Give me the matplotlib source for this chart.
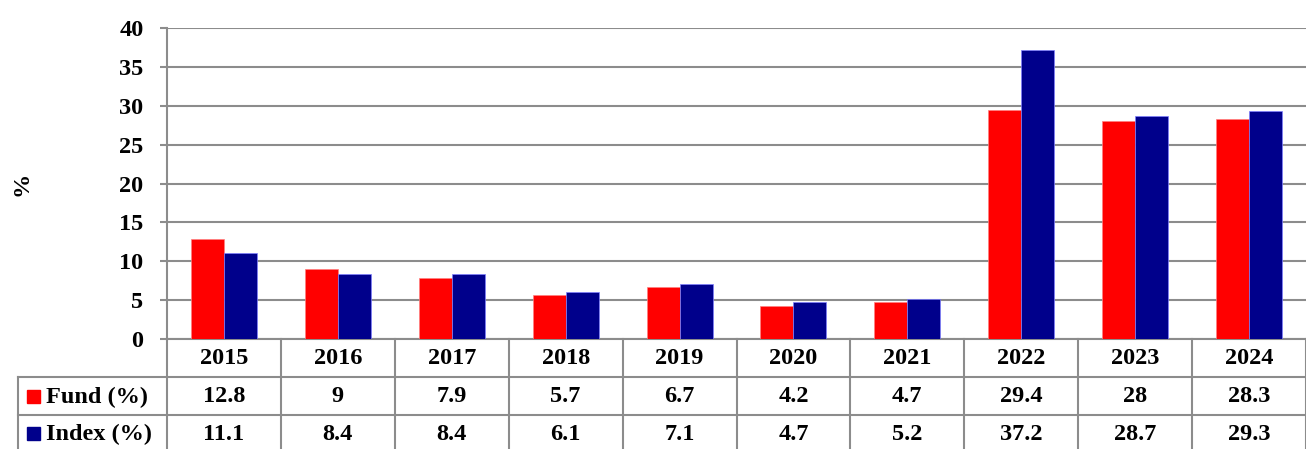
import matplotlib
matplotlib.use("Agg")
import matplotlib.pyplot as plt
import numpy as np
from matplotlib.lines import Line2D
from matplotlib.patches import Rectangle

years = ["2015", "2016", "2017", "2018", "2019", "2020", "2021", "2022", "2023", "2024"]
fund = [12.8, 9, 7.9, 5.7, 6.7, 4.2, 4.7, 29.4, 28, 28.3]
index = [11.1, 8.4, 8.4, 6.1, 7.1, 4.7, 5.2, 37.2, 28.7, 29.3]
series_names = ["Fund (%)", "Index (%)"]
colors = ["#FF0000", "#00008B"]
yticks = [0, 5, 10, 15, 20, 25, 30, 35, 40]

W, H = 1306, 449
fig = plt.figure(figsize=(W / 100, H / 100), dpi=100)
plt.rcParams['font.family'] = ['Liberation Serif', 'DejaVu Serif']
FS = 17.5

L, R, T, B = 167, 1306, 28, 339
ax = fig.add_axes([L / W, 1 - B / H, (R - L) / W, (B - T) / H])
grid_c = "#8c8c8c"
n = len(years)
x = np.arange(n)
bw = 0.29
ax.bar(x - bw / 2, fund, bw, color=colors[0], edgecolor="#ff8080", linewidth=0.5, zorder=3)
ax.bar(x + bw / 2, index, bw, color=colors[1], edgecolor="#8080ff", linewidth=0.5, zorder=3)
ax.set_xlim(-0.5, n - 0.5)
ax.set_ylim(0, 40)
ax.set_yticks(yticks)
ax.set_yticklabels([str(v) for v in yticks], fontsize=FS, fontweight="bold")
ax.tick_params(axis="y", length=5, width=1.5, color=grid_c, pad=12)
ax.set_xticks([])
for s in ["top", "right"]:
    ax.spines[s].set_visible(False)
for s in ["left", "bottom"]:
    ax.spines[s].set_color(grid_c)
    ax.spines[s].set_linewidth(1.5)
ax.yaxis.grid(True, color=grid_c, linewidth=1.5, zorder=0)
ax.set_axisbelow(True)
ax.set_ylabel("%", fontsize=FS, fontweight="bold", labelpad=0, va="center")
ax.yaxis.set_label_coords(-(L - 22) / (R - L), 0.5)

# data table in pixel coordinates
ov = fig.add_axes([0, 0, 1, 1], facecolor="none")
ov.set_xlim(0, W)
ov.set_ylim(H, 0)
ov.axis("off")
cw = (R - L) / n
rows = [339, 377, 415, 453]
lw = 1.5
for yy in rows[1:3]:
    ov.add_line(Line2D([18, R], [yy, yy], color=grid_c, lw=lw))
ov.add_line(Line2D([18, 18], [rows[1], H], color=grid_c, lw=lw))
for i in range(n + 1):
    xx = L + i * cw
    ov.add_line(Line2D([xx, xx], [rows[0], H], color=grid_c, lw=lw))
for i, yr in enumerate(years):
    ov.text(L + (i + 0.5) * cw, (rows[0] + rows[1]) / 2 + 1, yr, ha="center", va="center",
            fontsize=FS, fontweight="bold")
for r, (vals, name, c) in enumerate(zip([fund, index], series_names, colors)):
    yc = (rows[r + 1] + rows[r + 2]) / 2 + 1
    if r == 1:
        yc = 434
    for i, v in enumerate(vals):
        ov.text(L + (i + 0.5) * cw, yc, f"{v:g}", ha="center", va="center",
                fontsize=FS, fontweight="bold")
    ov.add_patch(Rectangle((27, yc - 7), 13, 13, color=c))
    ov.text(46, yc, name, ha="left", va="center", fontsize=FS, fontweight="bold")

fig.savefig("out.png", dpi=100)
